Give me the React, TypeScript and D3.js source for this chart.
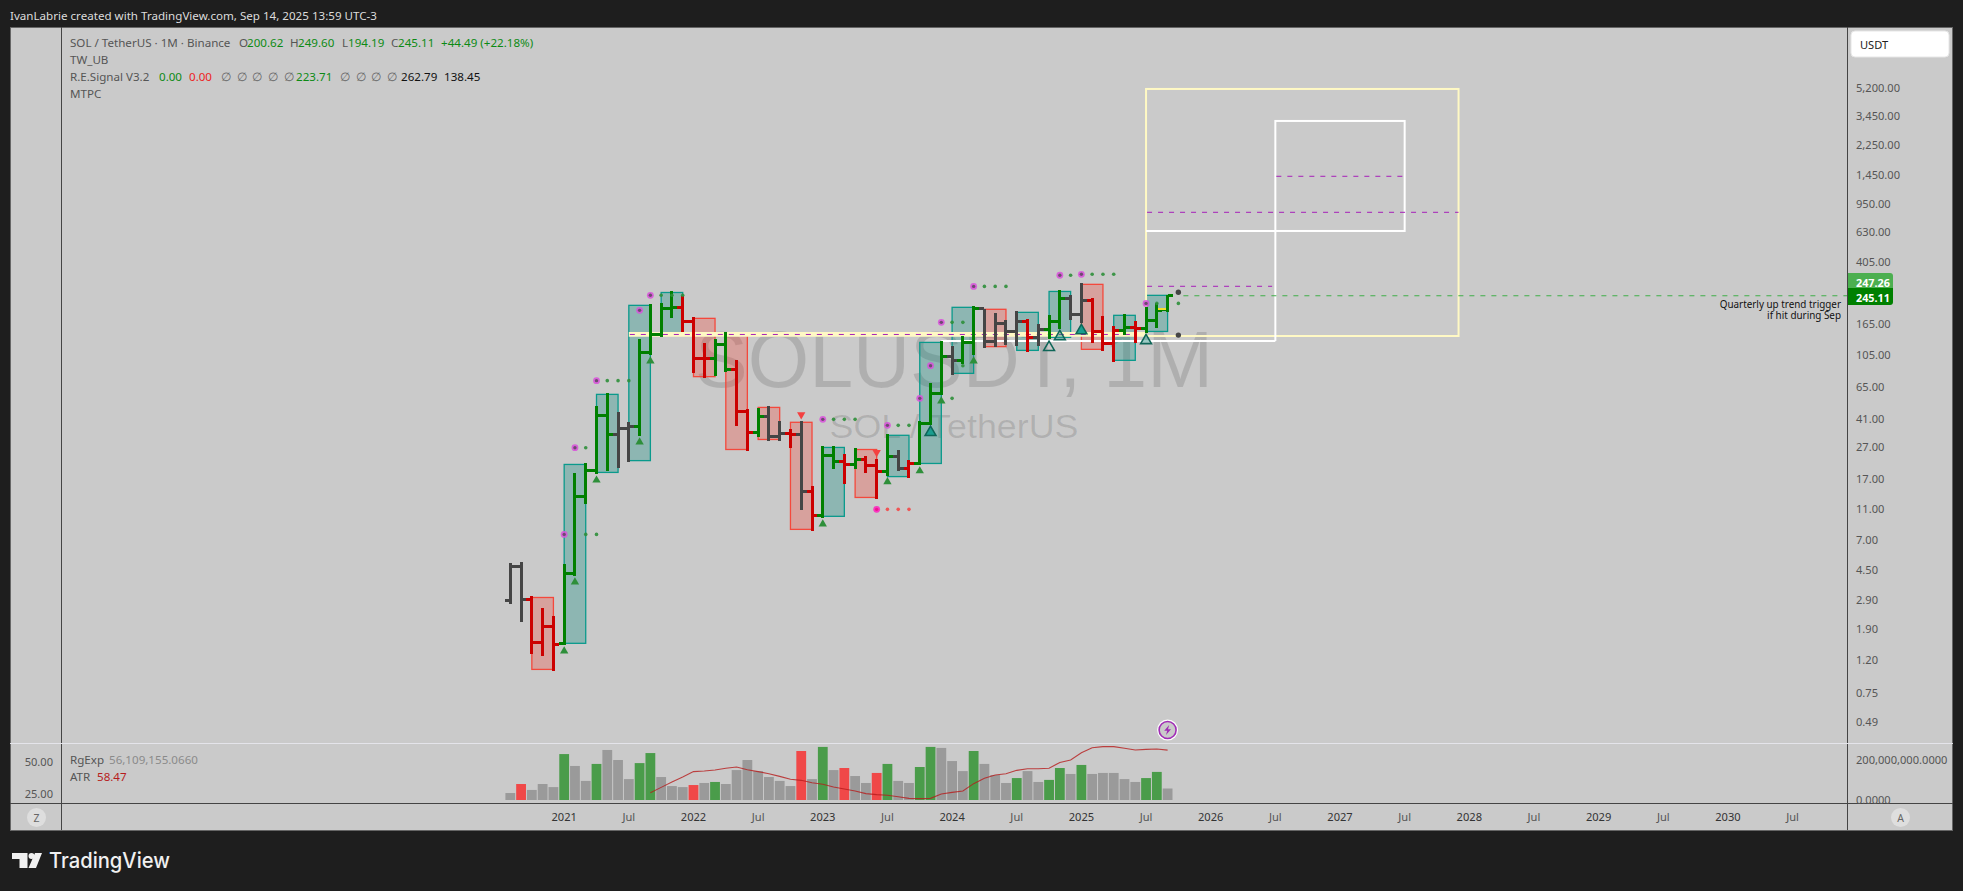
import React from "react";
import * as d3 from "d3";

// ---------- data (monthly SOL/USDT, Aug 2020 → Sep 2025) ----------
const opens = [2.865,4.73,2.91,1.557,1.97,1.52,4.27,13.1,19.2,42.8,32.4,35.4,36.6,108.1,139.9,203,208,169,98.6,98.6,120.9,83.9,45.4,33.4,42.2,31.5,32.9,32.4,14.1,9.87,23.9,21.9,20.9,22.5,20.6,18.9,23.5,19.7,21.2,38.1,59.1,101.5,95.7,125,203,126,165,146,169,134,150.5,167.7,237,188,230,146,122.7,147,155,153,171.7,200.62];
const highs = [4.92,5.02,3.05,2.56,2.28,4.87,18.4,21.3,49.1,59.4,45,38.9,130.7,218,221,263,245,180,123,130.7,145,96.2,47,47.7,49.1,39.4,35.1,39.4,15.2,27.4,27.4,24.3,26.6,23.6,22.6,32.6,25.8,22.3,39.4,68.7,127,118,136.6,212,203,191,172.6,197,175,163,186,267.6,248.7,296,238,183,158,188,170,209,221,249.6];
const lows = [2.715,2.09,1.31,1.27,1.02,1.49,4.09,11.7,18.2,19.0,19.8,21.6,31.7,103.4,134.5,178,145,79.5,73.9,76.1,80.7,36.6,25.4,31.2,29.4,29.4,26.6,10.73,7.89,9.54,19.5,15.7,19.5,18.4,12.6,17.6,19.0,17.1,20.7,37.2,57.7,77.2,90.8,103.4,114.6,116,119.7,118,108,118,131,151,172.6,165,123.4,109.7,93.4,138.7,123.4,142.7,153.6,194.19];
const closes = [4.73,2.91,1.557,1.97,1.51,4.27,13.1,19.2,42.8,32.4,35.4,36.6,108.1,139.9,203,208,169,98.6,98.6,120.9,83.9,45.4,33.4,42.2,31.5,32.9,32.4,14.1,9.87,23.9,21.9,20.9,22.5,20.6,18.9,23.5,19.7,21.2,38.1,59.1,101.5,95.7,125,203,126,165,146,169,134,150.5,167.7,237,188,230,146,122.7,147,155,153,171.7,198.7,245.11];
const barStates = "kkrrrggggg" + "kkggggrrrg" + "grrgkkrkrg" + "grgrrgkrgg" + "gkggkkkkrk" + "ggkkrrrgrg" + "gg";

const volumes = [34,78,49,78,63,224,166,93,176,244,195,102,180,229,112,68,63,73,83,88,78,146,195,141,112,93,68,239,102,259,146,156,117,83,132,176,93,83,161,259,254,190,141,239,176,122,83,107,141,88,98,156,127,171,127,132,132,102,88,107,137,56.1];
const volumeStates = "nrnnngnngn" + "nnggnnnrng" + "nnnnnnnrng" + "nrnnrgnngg" + "nnngnnngnn" + "ggngnnnnng" + "gn";
const atrValues = [25.2,29.4,33.6,37.5,41.7,42.2,43,44.3,45.3,43.2,41.7,40.1,38,35.7,34.9,33,31.8,29.7,28.1,26.6,24.5,23.7,23.2,22.1,20.8,20.6,20.8,24.2,25.5,26.6,32.3,36.5,39.1,40.1,42.7,44,44,44.3,48.9,50.8,56.5,60.4,61.2,61.2,59.9,58.6,59.1,59.4,58.47];
const atrStart = 13;

const quarterStarts = [2,5,8,11,14,17,20,23,26,29,32,35,38,41,44,47,50,53,56,59];
const quarterHighs = [2.99,20.9,58.2,213.8,258,176.8,142,48.1,38.7,26.8,26,32,124.4,207.7,201.8,193,262,290.6,184.8,247.5];
const quarterLows = [1.045,1.53,18.6,22.1,142,75.4,26,30.1,8.09,9.79,12.9,17.5,21.2,79.1,116.9,110.7,134,112.4,95.7,146];
const quarterStates = "rggggrrrrgrgggrggrgg";

// dot rows: [price, signal bar, follow-up bars, follow-up colour]
const dotRows: [number, number, number[], string][] = [
  [71.1, 8, [9, 10, 11], "g"],
  [26.7, 6, [7], "g"],
  [7.52, 5, [7, 8], "g"],
  [198.7, 12, [], "g"],
  [247.6, 13, [14, 15, 16], "g"],
  [40.4, 29, [30, 31, 32], "g"],
  [10.84, 34, [35, 36, 37], "r"],
  [37, 35, [36, 37], "g"],
  [54.9, 38, [41], "g"],
  [88.5, 39, [42], "g"],
  [166.8, 40, [41, 42], "g"],
  [282, 43, [44, 45, 46], "g"],
  [332, 51, [52], "g"],
  [336.6, 53, [54, 55, 56], "g"],
  [220, 59, [60, 62], "g"],
];
const pivotDots: [number, number][] = [[62, 259], [62, 138.45]];
const smallUp: [number, number][] = [[5,1.366],[6,3.75],[8,16.6],[12,29],[13,94.8],[29,8.75],[35,16.2],[38,19],[40,52.8],[43,94.8]];
const bigUp: [number, number, number][] = [[39,33.4,1],[50,115.7,0],[51,135.3,0.5],[53,147.7,1],[59,127.6,0.5]];
const smallDown: [number, number][] = [[27,43.3],[34,24.9]];

const priceTicks = [5200,3450,2250,1450,950,630,405,165,105,65,41,27,17,11,7,4.5,2.9,1.9,1.2,0.75,0.49];
const timeLabels: [number, string][] = [[5,"2021"],[11,"Jul"],[17,"2022"],[23,"Jul"],[29,"2023"],[35,"Jul"],[41,"2024"],[47,"Jul"],[53,"2025"],[59,"Jul"],[65,"2026"],[71,"Jul"],[77,"2027"],[83,"Jul"],[89,"2028"],[95,"Jul"],[101,"2029"],[107,"Jul"],[113,"2030"],[119,"Jul"]];

// projection levels
const yellowBox = { from: 59, to: 88, top: 5053, bottom: 136.6 };
const whiteBox = { from: 71, to: 83, top: 3166, bottom: 634 };
const whiteLow = { from: 40, to: 71, price: 127 };
const bandLevel = { from: 11, to: 59, price: 139.7 };
const dashedPurple: [number, number, number][] = [[59, 88, 833], [71, 83, 1410], [59, 70.7, 282.5], [11, 57.7, 139.7]];
const triggerLevel = { from: 62, price: 246 };

// ---------- scales ----------
const x = d3.scaleLinear().domain([0, 61]).range([510.3, 1167.6]);
const y = d3.scaleLog().domain([105, 5200]).range([354, 87]);
const yVol = d3.scaleLinear().domain([0, 200]).range([800, 759]);
const yAtr = d3.scaleLinear().domain([25, 50]).range([793, 761]);

// ---------- styles ----------
const FONT = "'Noto Sans', sans-serif";
const BG = "#cacaca";
const DARK = "#1e1e1e";
const barColor: Record<string, string> = { g: "#008000", r: "#cc0000", k: "#454545" };
const volColor: Record<string, string> = { g: "#4a9c4a", r: "#f04848", n: "#9a9a9a" };
const PANE_L = 61.5, PANE_R = 1847.5;
const AXIS = 11.1;
const LEG = 11.6;

const Txt = ({ x: tx, y: ty, fill = "#555", size = LEG, anchor = "start", weight = 400, children }: any) => (
  <text x={tx} y={ty} fill={fill} fontSize={size} fontFamily={FONT} fontWeight={weight} textAnchor={anchor} dominantBaseline="central">
    {children}
  </text>
);

const triPath = (size: number) => d3.symbol().type(d3.symbolTriangle).size(size)() as string;

const atrLine = d3.line<number>().x((_, i) => x(i + atrStart)).y((d) => yAtr(d));

const legendGreen = "#0c8a14";

export default function App() {
  return (
    <svg width={1963} height={891} style={{ position: "fixed", left: 0, top: 0, display: "block" }}>
      <rect width={1963} height={891} fill={DARK} />
      <Txt x={10} y={15} fill="#dcdcdc" size={11.6}>IvanLabrie created with TradingView.com, Sep 14, 2025 13:59 UTC-3</Txt>
      <rect x={10.5} y={27.5} width={1942} height={803} fill={BG} stroke="#666" />

      {/* watermark */}
      <text x={954} y={387} textAnchor="middle" fontFamily="'Liberation Sans', sans-serif" fontSize={80} textLength={518} lengthAdjust="spacingAndGlyphs" fill="#000" fillOpacity={0.13}>SOLUSDT, 1M</text>
      <text x={954} y={438} textAnchor="middle" fontFamily="'Liberation Sans', sans-serif" fontSize={34} textLength={249} lengthAdjust="spacingAndGlyphs" fill="#000" fillOpacity={0.13}>SOL / TetherUS</text>

      {/* quarterly boxes */}
      {quarterStarts.map((s, i) => {
        const up = quarterStates[i] === "g";
        return (
          <rect key={s} x={x(s)} y={y(quarterHighs[i])} width={x(s + 2) - x(s)} height={y(quarterLows[i]) - y(quarterHighs[i])}
            fill={up ? "rgba(0,137,123,0.3)" : "rgba(244,67,54,0.3)"} stroke={up ? "#0a9a8c" : "#f4483c"} strokeWidth={1.3} />
        );
      })}

      {/* projection boxes */}
      <line x1={x(bandLevel.from)} x2={x(bandLevel.to)} y1={y(bandLevel.price)} y2={y(bandLevel.price)} stroke="#fff9c4" strokeWidth={4.8} />
      <rect x={x(yellowBox.from)} y={y(yellowBox.top)} width={x(yellowBox.to) - x(yellowBox.from)} height={y(yellowBox.bottom) - y(yellowBox.top)} fill="none" stroke="#fff9c4" strokeWidth={2} />
      <rect x={x(whiteBox.from)} y={y(whiteBox.top)} width={x(whiteBox.to) - x(whiteBox.from)} height={y(whiteBox.bottom) - y(whiteBox.top)} fill="none" stroke="#fff" strokeWidth={2} />
      <line x1={x(yellowBox.from)} x2={x(whiteBox.from)} y1={y(whiteBox.bottom)} y2={y(whiteBox.bottom)} stroke="#fff" strokeWidth={2} />
      <line x1={x(whiteLow.from)} x2={x(whiteLow.to)} y1={y(whiteLow.price)} y2={y(whiteLow.price)} stroke="#fff" strokeWidth={2} />
      <line x1={x(whiteLow.to)} x2={x(whiteLow.to)} y1={y(whiteBox.bottom)} y2={y(whiteLow.price)} stroke="#fff" strokeWidth={2} />
      {dashedPurple.map(([a, b, p]) => (
        <line key={p + a} x1={x(a) + 1} x2={x(b)} y1={y(p)} y2={y(p)} stroke="#a61eb8" strokeWidth={1} strokeDasharray="5 6" />
      ))}
      <line x1={x(triggerLevel.from) + 5} x2={PANE_R} y1={y(triggerLevel.price)} y2={y(triggerLevel.price)} stroke="#3fae49" strokeWidth={1} strokeDasharray="5 6" />

      {/* OHLC bars */}
      <g shapeRendering="crispEdges">
        {opens.map((o, i) => {
          const c = barColor[barStates[i]];
          const cx = x(i), half = (x(1) - x(0)) / 2;
          return (
            <g key={i} stroke={c} strokeWidth={3}>
              <line x1={cx} x2={cx} y1={y(highs[i])} y2={y(lows[i])} />
              <line x1={cx - half} x2={cx} y1={y(o)} y2={y(o)} />
              <line x1={cx} x2={cx + half} y1={y(closes[i])} y2={y(closes[i])} />
            </g>
          );
        })}
        <line x1={x(60) + 1.5} x2={x(61) - 1.5} y1={y(203)} y2={y(203)} stroke="#f5e12b" strokeWidth={1.5} />
      </g>

      {/* dots */}
      {dotRows.map(([p, sig, rest, col]) => (
        <g key={`${p}-${sig}`}>
          <circle cx={x(sig)} cy={y(p)} r={3.4} fill={col === "r" ? "#ff20c0" : "#d94fdc"} fillOpacity={0.85} />
          <circle cx={x(sig)} cy={y(p)} r={1.7} fill={col === "r" ? "#f0148c" : "#6e4a70"} />
          {rest.map((r) => (
            <circle key={r} cx={x(r)} cy={y(p)} r={1.8} fill={col === "r" ? "#f44848" : "#2e8f3a"} fillOpacity={0.9} />
          ))}
        </g>
      ))}
      {pivotDots.map(([i, p]) => (
        <circle key={p} cx={x(i)} cy={y(p)} r={2.7} fill="#454545" />
      ))}

      {/* triangles */}
      {smallUp.map(([i, p]) => (
        <path key={i} d={triPath(30)} transform={`translate(${x(i)},${y(p)})`} fill="#2e8f3a" />
      ))}
      {bigUp.map(([i, p, fill]) => (
        <path key={i} d={triPath(52)} transform={`translate(${x(i)},${y(p)})`} fill={fill === 0 ? "none" : fill === 1 ? "#1a9e8f" : "#1f8f80"} fillOpacity={fill === 0.5 ? 0.45 : 1} stroke="#0e6658" strokeWidth={1.5} />
      ))}
      {smallDown.map(([i, p]) => (
        <path key={i} d={triPath(30)} transform={`translate(${x(i)},${y(p)}) rotate(180)`} fill="#f44040" />
      ))}

      {/* lightning event */}
      <g transform={`translate(${x(61)},730)`}>
        <circle r={10.5} fill="#fff" fillOpacity={0.95} />
        <circle r={8.5} fill={BG} stroke="#a02db5" strokeWidth={1.6} />
        <path d="M1.6,-5 L-3.4,0.8 L-0.4,0.8 L-1.6,5 L3.4,-0.8 L0.4,-0.8 Z" fill="#a02db5" />
      </g>

      {/* volume + ATR */}
      {volumes.map((v, i) => (
        <rect key={i} x={x(i) - 4.9} y={yVol(v)} width={9.8} height={yVol(0) - yVol(v)} fill={volColor[volumeStates[i]]} />
      ))}
      <path d={atrLine(atrValues) as string} fill="none" stroke="#b71c1c" strokeOpacity={0.8} strokeWidth={1.1} />

      {/* pane frames */}
      <line x1={10} x2={1953} y1={743.5} y2={743.5} stroke="#e4e4ea" strokeWidth={1.2} />
      <line x1={10} x2={1953} y1={803.5} y2={803.5} stroke="#444" />
      <line x1={PANE_L} x2={PANE_L} y1={27} y2={743} stroke="#444" />
      <line x1={PANE_L} x2={PANE_L} y1={744} y2={830} stroke="#444" />
      <line x1={PANE_R} x2={PANE_R} y1={27} y2={743} stroke="#444" />
      <line x1={PANE_R} x2={PANE_R} y1={744} y2={830} stroke="#444" />

      {/* price axis */}
      {priceTicks.map((t) => (
        <Txt key={t} x={1856} y={y(t)} fill="#555" size={AXIS}>{d3.format(",.2f")(t)}</Txt>
      ))}
      <rect x={1851} y={31} width={98} height={26} rx={4} fill="#fff" stroke="#e6e6e6" />
      <Txt x={1860} y={44.5} fill="#222" size={AXIS}>USDT</Txt>
      <path d="M1848,273 H1890 a3,3 0 0 1 3,3 V288 H1848 Z" fill="#4caf50" />
      <path d="M1848,288 H1893 V302 a3,3 0 0 1 -3,3 H1848 Z" fill="#008000" />
      <Txt x={1856} y={282} fill="#fff" size={10.8} weight={700}>247.26</Txt>
      <Txt x={1856} y={297} fill="#fff" size={10.8} weight={700}>245.11</Txt>
      <Txt x={1841} y={304} fill="#111" size={9.9} anchor="end">Quarterly up trend trigger</Txt>
      <Txt x={1841} y={315} fill="#111" size={9.9} anchor="end">if hit during Sep</Txt>

      {/* lower pane axes */}
      <Txt x={1856} y={759} fill="#555" size={AXIS}>200,000,000.0000</Txt>
      <Txt x={1856} y={799} fill="#555" size={AXIS}>0.0000</Txt>
      <Txt x={53} y={761} fill="#555" size={AXIS} anchor="end">50.00</Txt>
      <Txt x={53} y={793} fill="#555" size={AXIS} anchor="end">25.00</Txt>
      <Txt x={70} y={759} fill="#555">RgExp</Txt>
      <Txt x={109} y={759} fill="#8a8a8a">56,109,155.0660</Txt>
      <Txt x={70} y={776} fill="#555">ATR</Txt>
      <Txt x={97} y={776} fill="#b71c1c">58.47</Txt>

      {/* time axis */}
      {timeLabels.map(([i, l]) => (
        <Txt key={i} x={x(i)} y={816.5} anchor="middle" fill={l === "Jul" ? "#555" : "#333"} size={AXIS}>{l}</Txt>
      ))}
      <circle cx={36.5} cy={817.5} r={9.5} fill="#dedede" />
      <Txt x={36.5} y={817.5} anchor="middle" fill="#666" size={10.5}>Z</Txt>
      <circle cx={1900.5} cy={817.5} r={9.5} fill="#dedede" />
      <Txt x={1900.5} y={818} anchor="middle" fill="#666" size={10.5}>A</Txt>

      {/* legend */}
      <Txt x={70} y={42}>SOL / TetherUS · 1M · Binance</Txt>
      <Txt x={239} y={42}>O</Txt><Txt x={247} y={42} fill={legendGreen}>200.62</Txt>
      <Txt x={290} y={42}>H</Txt><Txt x={298} y={42} fill={legendGreen}>249.60</Txt>
      <Txt x={342} y={42}>L</Txt><Txt x={348} y={42} fill={legendGreen}>194.19</Txt>
      <Txt x={391} y={42}>C</Txt><Txt x={398} y={42} fill={legendGreen}>245.11</Txt>
      <Txt x={441} y={42} fill={legendGreen}>+44.49 (+22.18%)</Txt>
      <Txt x={70} y={59}>TW_UB</Txt>
      <Txt x={70} y={76}>R.E.Signal V3.2</Txt>
      <Txt x={159} y={76} fill={legendGreen}>0.00</Txt>
      <Txt x={189} y={76} fill="#ee2222">0.00</Txt>
      {[221, 237, 252, 268, 284, 340, 356, 371, 387].map((px) => (
        <Txt key={px} x={px} y={76} fill="#666">∅</Txt>
      ))}
      <Txt x={296} y={76} fill={legendGreen}>223.71</Txt>
      <Txt x={401} y={76} fill="#111">262.79</Txt>
      <Txt x={444} y={76} fill="#111">138.45</Txt>
      <Txt x={70} y={93}>MTPC</Txt>

      {/* brand */}
      <g fill="#f0f0f0">
        <path d="M12,853 H27.5 V868 H19.5 V859 H12 Z" />
        <circle cx={31.5} cy={856} r={3} />
        <path d="M35,853 H42 L36,868 H28.5 Z" />
        <text x={49} y={868} fontFamily="'Inter', 'Noto Sans', sans-serif" fontWeight={500} fontSize={21} textLength={121} lengthAdjust="spacingAndGlyphs">TradingView</text>
      </g>
    </svg>
  );
}
